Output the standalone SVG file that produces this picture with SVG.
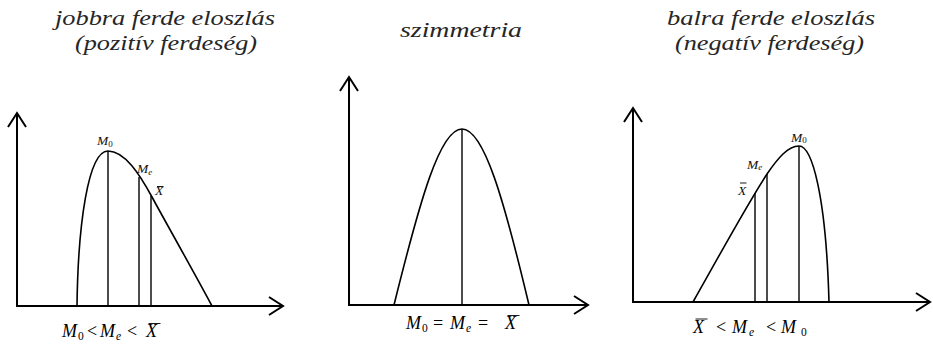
<svg xmlns="http://www.w3.org/2000/svg" width="933" height="346" viewBox="0 0 933 346">
<style>
.title{font-family:"Liberation Serif","Times New Roman",serif;font-style:italic;font-size:22px;fill:#262626}
.axis{stroke:#000;stroke-width:2;fill:none}
.curve{stroke:#000;stroke-width:1.6;fill:none}
.vline{stroke:#000;stroke-width:1.4}
.ov{stroke:#000;stroke-width:0.9}
.f{font-family:"Liberation Serif","Times New Roman",serif;font-size:18px;fill:#000}
.fi{font-style:italic}
.fs{font-size:11.5px}
.l{font-family:"Liberation Serif","Times New Roman",serif;font-style:italic;font-size:13.5px;fill:#111}
.ls{font-size:9px}
</style>
<defs>
<marker id="ah" viewBox="-16 -11 18 22" refX="0" refY="0" markerWidth="18" markerHeight="22" markerUnits="userSpaceOnUse" orient="auto">
<path d="M-14,-9 L0,0 L-14,9" fill="none" stroke="#000" stroke-width="2"/>
</marker>
</defs>

<g id="titles">
<text class="title" x="55" y="25" textLength="220" lengthAdjust="spacingAndGlyphs">jobbra ferde eloszlás</text>
<text class="title" x="75" y="50" textLength="182" lengthAdjust="spacingAndGlyphs">(pozitív ferdeség)</text>
<text class="title" x="400" y="37" textLength="122" lengthAdjust="spacingAndGlyphs">szimmetria</text>
<text class="title" x="667" y="25" textLength="208" lengthAdjust="spacingAndGlyphs">balra ferde eloszlás</text>
<text class="title" x="675" y="50" textLength="189" lengthAdjust="spacingAndGlyphs">(negatív ferdeség)</text>
</g>

<g id="connectors">
<line class="axis" x1="17" y1="306" x2="17" y2="113" marker-end="url(#ah)"/>
<line class="axis" x1="16" y1="306" x2="283" y2="306" marker-end="url(#ah)"/>
<line class="axis" x1="349" y1="305" x2="349" y2="77" marker-end="url(#ah)"/>
<line class="axis" x1="348" y1="305" x2="588" y2="305" marker-end="url(#ah)"/>
<line class="axis" x1="633" y1="302" x2="633" y2="108" marker-end="url(#ah)"/>
<line class="axis" x1="632" y1="302" x2="930" y2="302" marker-end="url(#ah)"/>
</g>

<g id="panel-right-skew">
<path class="curve" d="M77,306 C78,225 88,151 108,151 C125,151 140,175 152,197 C165,221 195,274 212,306"/>
<line class="vline" x1="108" y1="151" x2="108" y2="306"/>
<line class="vline" x1="139" y1="177" x2="139" y2="306"/>
<line class="vline" x1="151" y1="196" x2="151" y2="306"/>
<text class="l" x="97" y="145">M<tspan class="ls" dy="2" font-style="normal">0</tspan></text>
<text class="l" x="137" y="173">M<tspan class="ls" dy="2">e</tspan></text>
<text class="l" x="155" y="195" font-size="12">X</text>
<line class="ov" x1="157" y1="186.5" x2="163.5" y2="186.5"/>
<text class="f" y="337"><tspan class="fi" x="62">M</tspan><tspan class="fs" x="78" dy="3">0</tspan><tspan x="87" dy="-3">&lt;</tspan><tspan class="fi" x="100">M</tspan><tspan class="fs fi" x="116" dy="3">e</tspan><tspan x="127" dy="-3">&lt;</tspan><tspan class="fi" x="146">X</tspan></text>
<line class="ov" x1="148.5" y1="323.5" x2="160.5" y2="323.5"/>
</g>

<g id="panel-symmetric">
<path class="curve" d="M394,305 C420,200 440,129 462,129 C484,129 504,200 529,305"/>
<line class="vline" x1="462" y1="129" x2="462" y2="305"/>
<text class="f" y="329"><tspan class="fi" x="406">M</tspan><tspan class="fs" x="422" dy="3">0</tspan><tspan x="433" dy="-3">=</tspan><tspan class="fi" x="450">M</tspan><tspan class="fs fi" x="466" dy="3">e</tspan><tspan x="478" dy="-3">=</tspan><tspan class="fi" x="505">X</tspan></text>
<line class="ov" x1="507.5" y1="315.5" x2="519.5" y2="315.5"/>
</g>

<g id="panel-left-skew">
<path class="curve" d="M693,302 C718,258 745,208 767,174 C778,158 788,146 799,146 C812,146 826,195 829,302"/>
<line class="vline" x1="755" y1="193" x2="755" y2="302"/>
<line class="vline" x1="767" y1="174" x2="767" y2="302"/>
<line class="vline" x1="799" y1="146" x2="799" y2="302"/>
<text class="l" x="791" y="142" font-size="14">M<tspan class="ls" dy="1" font-style="normal">0</tspan></text>
<text class="l" x="747" y="169">M<tspan class="ls" dy="1">e</tspan></text>
<text class="l" x="738" y="195" font-size="12">X</text>
<line class="ov" x1="740" y1="183" x2="746.5" y2="183"/>
<text class="f" y="333"><tspan class="fi" x="693">X</tspan><tspan x="716">&lt;</tspan><tspan class="fi" x="732">M</tspan><tspan class="fs fi" x="749" dy="3">e</tspan><tspan x="766" dy="-3">&lt;</tspan><tspan class="fi" x="781">M</tspan><tspan class="fs" x="801" dy="3">0</tspan></text>
<line class="ov" x1="695.5" y1="319" x2="707.5" y2="319"/>
</g>
</svg>
